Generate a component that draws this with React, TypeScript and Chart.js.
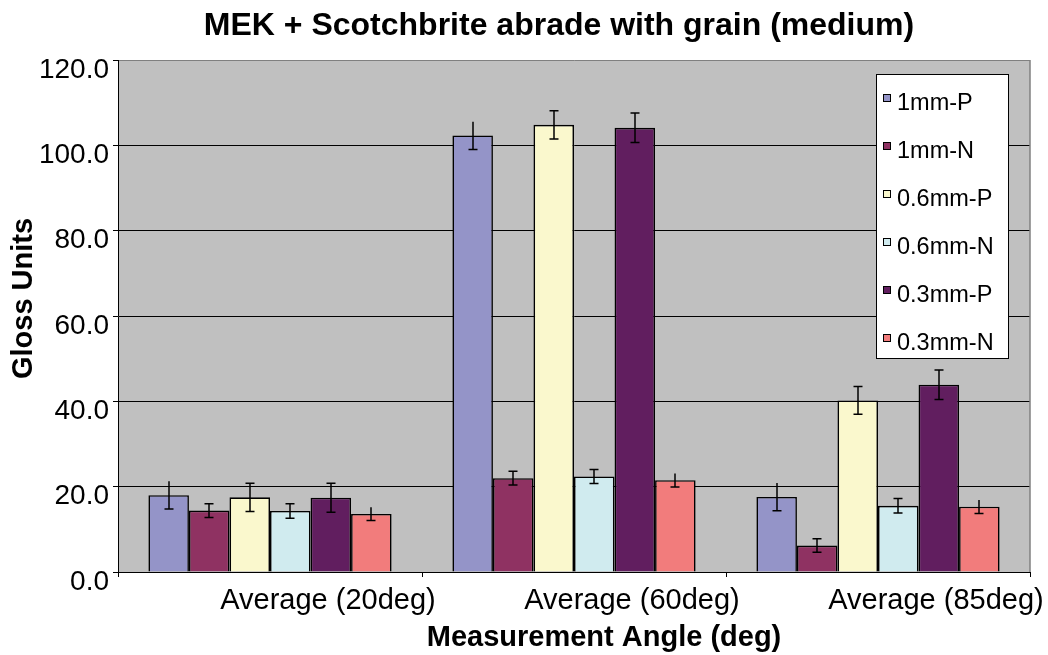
import React, { useEffect, useRef } from "react";
import { Chart, registerables } from "chart.js";

Chart.register(...registerables);

// ---- data ----
const categories = ["Average (20deg)", "Average (60deg)", "Average (85deg)"];
const seriesNames = ["1mm-P", "1mm-N", "0.6mm-P", "0.6mm-N", "0.3mm-P", "0.3mm-N"];

const mm1P = [18.0, 102.3, 17.6];
const mm1N = [14.4, 22.0, 6.2];
const mm06P = [17.5, 104.8, 40.2];
const mm06N = [14.3, 22.4, 15.5];
const mm03P = [17.4, 104.1, 43.9];
const mm03N = [13.6, 21.5, 15.3];

const mm1PErr = [3.25, 3.25, 3.25];
const mm1NErr = [1.6, 1.6, 1.6];
const mm06PErr = [3.3, 3.3, 3.25];
const mm06NErr = [1.7, 1.65, 1.7];
const mm03PErr = [3.4, 3.45, 3.45];
const mm03NErr = [1.55, 1.6, 1.6];

const yTickValues = [0, 20, 40, 60, 80, 100, 120];

const chartTitle = "MEK + Scotchbrite abrade with grain (medium)";
const xTitle = "Measurement Angle (deg)";
const yTitle = "Gloss Units";

// ---- styles ----
const colors = ["#9494C8", "#8F3262", "#FAF8CD", "#D0EBEF", "#611E5F", "#F27C7C"];
const topCaps = [false, true, true, true, true, false];
const FONT = '"Liberation Sans", Arial, Helvetica, sans-serif';

const seriesValues = [mm1P, mm1N, mm06P, mm06N, mm03P, mm03N];
const seriesErrors = [mm1PErr, mm1NErr, mm06PErr, mm06NErr, mm03PErr, mm03NErr];

const decorPlugin = {
  id: "decor",
  beforeDraw(chart: any) {
    const { ctx, chartArea: a } = chart;
    ctx.save();
    ctx.fillStyle = "#FFFFFF";
    ctx.fillRect(0, 0, chart.width, chart.height);
    ctx.fillStyle = "#C0C0C0";
    ctx.fillRect(a.left, a.top, a.right - a.left, a.bottom - a.top);
    ctx.restore();
  },
  afterDatasetsDraw(chart: any) {
    const { ctx, chartArea: a } = chart;
    const yScale = chart.scales.y;
    ctx.save();
    // error bars
    ctx.strokeStyle = "#000000";
    ctx.lineWidth = 1.5;
    chart.data.datasets.forEach((ds: any, i: number) => {
      const meta = chart.getDatasetMeta(i);
      meta.data.forEach((bar: any, j: number) => {
        const v = ds.data[j];
        const e = ds.errors[j];
        const x = Math.round(bar.x);
        const yt = yScale.getPixelForValue(v + e);
        const yb = yScale.getPixelForValue(v - e);
        ctx.beginPath();
        ctx.moveTo(x, yt);
        ctx.lineTo(x, yb);
        ctx.moveTo(x - 4.5, yb);
        ctx.lineTo(x + 4.5, yb);
        if (ds.topCap) {
          ctx.moveTo(x - 4.5, yt);
          ctx.lineTo(x + 4.5, yt);
        }
        ctx.stroke();
      });
    });
    // right plot border
    ctx.strokeStyle = "#808080";
    ctx.lineWidth = 1.5;
    ctx.beginPath();
    ctx.moveTo(a.right, a.top);
    ctx.lineTo(a.right, a.bottom);
    ctx.stroke();

    // legend
    const lx = 876, ly = 74, lw = 132, lh = 284;
    ctx.fillStyle = "#FFFFFF";
    ctx.fillRect(lx, ly, lw, lh);
    ctx.strokeStyle = "#000000";
    ctx.lineWidth = 1;
    ctx.strokeRect(lx + 0.5, ly + 0.5, lw, lh);
    ctx.font = `23.5px ${FONT}`;
    ctx.textAlign = "left";
    ctx.textBaseline = "alphabetic";
    chart.data.datasets.forEach((ds: any, i: number) => {
      const base = 110.2 + i * 48.04;
      const sy = Math.round(base - 16);
      ctx.fillStyle = ds.backgroundColor;
      ctx.fillRect(883, sy, 8, 8);
      ctx.strokeStyle = "#000";
      ctx.lineWidth = 1;
      ctx.strokeRect(883.5, sy + 0.5, 7, 7);
      ctx.fillStyle = "#000";
      ctx.fillText(ds.label, 897, base);
    });

    // titles
    ctx.fillStyle = "#000";
    ctx.textAlign = "center";
    ctx.textBaseline = "middle";
    ctx.font = `bold 32px ${FONT}`;
    ctx.fillText(chartTitle, 559, 26);
    ctx.font = `bold 29px ${FONT}`;
    ctx.fillText(xTitle, 604, 637.5);
    ctx.save();
    ctx.translate(23.5, 298.5);
    ctx.rotate(-Math.PI / 2);
    ctx.fillText(yTitle, 0, 0);
    ctx.restore();
    ctx.restore();
  },
};

export default function App() {
  const canvasRef = useRef<HTMLCanvasElement | null>(null);

  useEffect(() => {
    if (!canvasRef.current) return;
    const datasets = seriesNames.map((name, i) => ({
      label: name,
      data: seriesValues[i],
      errors: seriesErrors[i],
      topCap: topCaps[i],
      backgroundColor: colors[i],
      borderColor: "#000000",
      borderWidth: 1.6,
      barPercentage: 1.0,
      categoryPercentage: 0.8,
    }));

    const chart = new Chart(canvasRef.current, {
      type: "bar",
      data: { labels: categories, datasets: datasets as any },
      plugins: [decorPlugin],
      options: {
        animation: false,
        responsive: false,
        devicePixelRatio: 1,
        layout: { padding: { top: 60, right: 18, bottom: 0, left: 0 } },
        plugins: {
          legend: { display: false },
          title: { display: false },
          tooltip: { enabled: false },
        },
        scales: {
          x: {
            offset: true,
            grid: {
              display: true,
              offset: true,
              drawOnChartArea: false,
              drawTicks: true,
              tickLength: 5,
              color: "#000000",
              tickColor: "#000000",
            },
            border: { display: true, color: "#000000", width: 1 },
            ticks: {
              color: "#000000",
              font: { family: FONT, size: 29 },
              padding: 7,
              labelOffset: 58,
              maxRotation: 0,
              minRotation: 0,
              autoSkip: false,
            },
            afterFit(scale: any) {
              scale.height = 83;
            },
          },
          y: {
            min: 0,
            max: 120,
            afterBuildTicks(scale: any) {
              scale.ticks = yTickValues.map((v) => ({ value: v }));
            },
            grid: {
              display: true,
              drawTicks: true,
              tickLength: 5,
              lineWidth: 1,
              color: (c: any) => (c.tick && c.tick.value === 120 ? "#808080" : "#000000"),
              tickColor: "#000000",
            },
            border: { display: true, color: "#000000", width: 1 },
            ticks: {
              color: "#000000",
              font: { family: FONT, size: 28 },
              padding: 4,
              labelOffset: 10,
              callback: (v: any) => Number(v).toFixed(1),
            },
            afterFit(scale: any) {
              scale.width = 118;
            },
          },
        },
      } as any,
    });
    return () => chart.destroy();
  }, []);

  return (
    <div style={{ position: "fixed", left: 0, top: 0, width: 1048, height: 655, background: "#fff" }}>
      <canvas ref={canvasRef} width={1048} height={655} style={{ display: "block" }} />
    </div>
  );
}
